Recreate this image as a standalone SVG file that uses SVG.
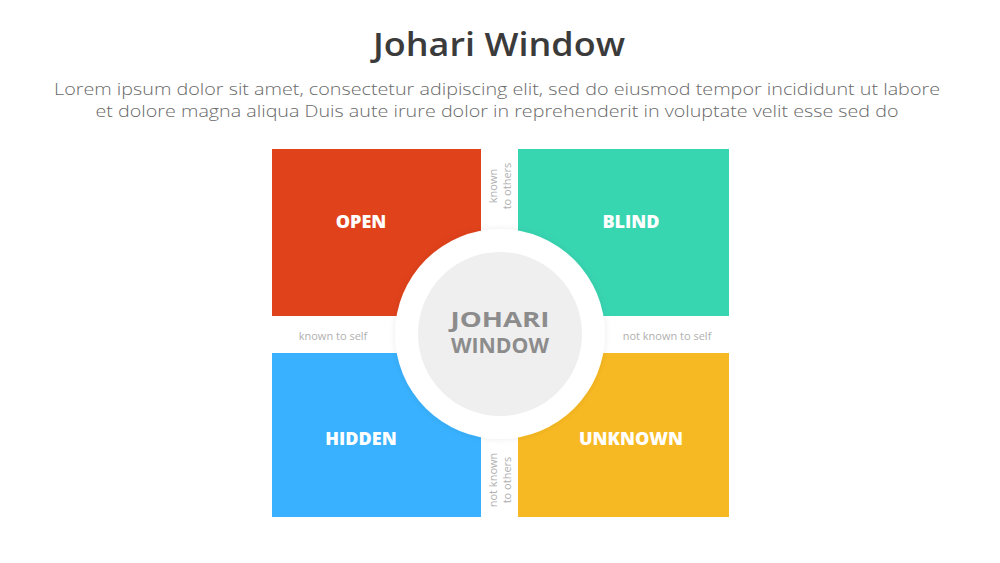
<svg xmlns="http://www.w3.org/2000/svg" width="1000" height="563" viewBox="0 0 1000 563">
<defs>
<style>
.title{font-family:"Open Sans","Liberation Sans",sans-serif;font-weight:600;font-size:32px;fill:#3b3b3b;text-anchor:middle}
.body{font-family:"Open Sans","Liberation Sans",sans-serif;font-weight:300;font-size:16.5px;fill:#6a6a6a;text-anchor:middle}
.qlabel{font-family:"Open Sans","Liberation Sans",sans-serif;font-weight:800;font-size:18px;fill:#ffffff;text-anchor:middle}
.center{font-family:"Open Sans","Liberation Sans",sans-serif;font-weight:700;font-size:21px;fill:#8c8c8c;text-anchor:middle}
.axis{font-family:"Open Sans","Liberation Sans",sans-serif;font-weight:400;font-size:11px;fill:#b0b0b0;text-anchor:middle}
</style>
<filter id="sh" x="-20%" y="-20%" width="140%" height="140%">
<feDropShadow dx="0" dy="0" stdDeviation="3" flood-color="#000" flood-opacity="0.08"/>
</filter>
</defs>
<rect width="1000" height="563" fill="#ffffff"/>
<g id="header">
<text class="title" x="499" y="56" textLength="252" lengthAdjust="spacingAndGlyphs">Johari Window</text>
<text class="body" x="497" y="95" textLength="886" lengthAdjust="spacingAndGlyphs">Lorem ipsum dolor sit amet, consectetur adipiscing elit, sed do eiusmod tempor incididunt ut labore</text>
<text class="body" x="497" y="117" textLength="803" lengthAdjust="spacingAndGlyphs">et dolore magna aliqua Duis aute irure dolor in reprehenderit in voluptate velit esse sed do</text>
</g>
<g id="open">
<rect x="272" y="149" width="209" height="167" fill="#e0421b"/>
<text class="qlabel" x="361" y="228">OPEN</text>
</g>
<g id="blind">
<rect x="518" y="149" width="211" height="167" fill="#38d5b1"/>
<text class="qlabel" x="631" y="228">BLIND</text>
</g>
<g id="hidden">
<rect x="272" y="353" width="209" height="164" fill="#39b1fe"/>
<text class="qlabel" x="361" y="445">HIDDEN</text>
</g>
<g id="unknown">
<rect x="518" y="353" width="211" height="164" fill="#f7b923"/>
<text class="qlabel" x="631" y="445">UNKNOWN</text>
</g>
<g id="center">
<circle cx="500" cy="334" r="105" fill="#ffffff" filter="url(#sh)"/>
<circle cx="500" cy="334" r="82" fill="#efefef"/>
<text class="center" x="500" y="327" textLength="99" lengthAdjust="spacingAndGlyphs">JOHARI</text>
<text class="center" x="500" y="353" textLength="98" lengthAdjust="spacingAndGlyphs">WINDOW</text>
</g>
<g id="axis-labels">
<text class="axis" x="333" y="340">known to self</text>
<text class="axis" x="667" y="340">not known to self</text>
<text class="axis" transform="translate(497,186) rotate(-90)">known</text>
<text class="axis" transform="translate(511,186) rotate(-90)">to others</text>
<text class="axis" transform="translate(497,480) rotate(-90)">not known</text>
<text class="axis" transform="translate(511,480) rotate(-90)">to others</text>
</g>
<g id="connectors"></g>
</svg>
